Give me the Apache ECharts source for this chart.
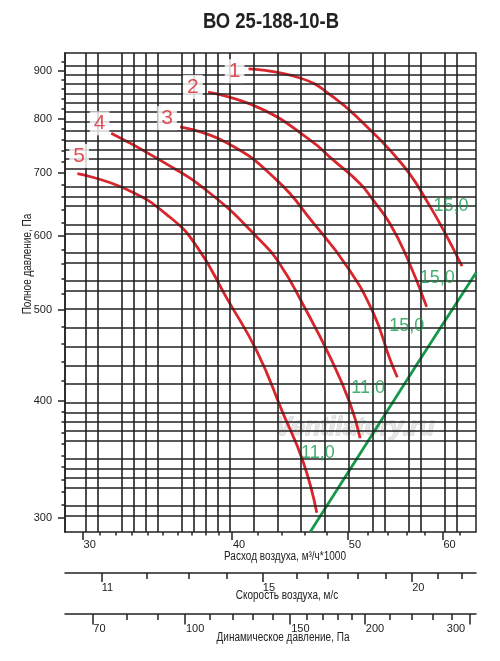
<!DOCTYPE html>
<html>
<head>
<meta charset="utf-8">
<script src="https://cdn.jsdelivr.net/npm/echarts@6/dist/echarts.min.js"></script>
<style>
html,body{margin:0;padding:0;background:#fff;}
#chart{width:500px;height:661px;}
</style>
</head>
<body>
<div id="chart"></div>
<script>
// ---------- data ----------
const flowRange = [29, 64];              // thousand m3/h
const pressureRange = [290, 940];        // Pa
const flowGridTicks = [30,31,32,33,34,35,36,37,38,39,40,42,44,46,48,50,52,54,56,58,60,62];
const flowLabels = [30,40,50,60];
const pressureGridTicks = [300,310,320,330,340,350,360,370,380,390,400,420,440,460,480,500,520,540,560,580,600,620,640,660,680,700,720,740,760,780,800,820,840,860,880,900,920];
const pressureLabels = [300,400,500,600,700,800,900];
const velocityTicks = [11,12,13,14,15,16,17,18,19,20,21,22];
const velocityLabels = [11,15,20];
const dynTicks = [70,80,90,100,110,120,130,140,150,160,170,180,190,200,220,240,260,280,300];
const dynLabels = [70,100,150,200];
const dynLabelsEnd = [300];
const flowPerVelocity = 2.83;   // (thousand m3/h) per (m/s)
const halfDensity = 0.6;        // Pd = 0.6 * v^2

const curve1Q = [41.3,45.6,48.6,51.9,54.2,56.4,58.2,60.1,62.3];
const curve1P = [904,884,844,784,741,697,654,609,557];
const curve2Q = [38.2,42.2,46.5,48.6,51.2,52.5,54.2,56.0,58.2];
const curve2P = [854,821,759,723,682,655,619,570,504];
const curve3Q = [36.2,39.6,43.6,46.8,49.9,52.5,54.2,55.0];
const curve3P = [784,754,688,619,557,497,444,424];
const curve4Q = [31.7,34.8,38.3,42.2,43.9,45.9,48.3,50.2,51.2];
const curve4P = [772,723,667,594,559,506,446,398,365];
const curve5Q = [29.7,32.7,35.5,37.4,39.6,42.0,44.1,45.9,47.1];
const curve5P = [699,672,628,584,515,451,389,344,304];
const systemQ = [46.5,57.6,64];
const systemP = [290,445,548];

const curveNames = ['1','2','3','4','5'];
const curveNameQ = [40.2,37.1,35.3,31.0,29.8];
const curveNameP = [899,865,801,791,730];
const markTexts = ['15,0','15,0','15,0','11,0','11,0'];
const markQ = [61.0,59.4,56.0,52.0,47.2];
const markP = [646,541,481,413,352];

const titleText = 'ВО 25-188-10-В';
const flowName = 'Расход воздуха, м³/ч*1000';
const velocityName = 'Скорость воздуха, м/с';
const dynName = 'Динамическое давление, Па';
const pressureName = 'Полное давление, Па';
const watermark = 'Ventilatory.ru';

// ---------- helpers ----------
const L = Math.log10;
const toV = q => q / flowPerVelocity;
const toPd = q => halfDensity * Math.pow(toV(q), 2);
const pts = (qs, ps) => qs.map((q, i) => [L(q), L(ps[i])]);
const fmt = v => String(Math.round(Math.pow(10, v)));

const FONT = "'Liberation Sans',Arial,sans-serif";
const INK = '#222222';
const RED = '#d9262c';
const GREEN = '#17994c';
const NARROW = 0.8;

const xMinF = L(flowRange[0]), xMaxF = L(flowRange[1]);
const xMinV = L(toV(flowRange[0])), xMaxV = L(toV(flowRange[1]));
const xMinD = L(toPd(flowRange[0])), xMaxD = L(toPd(flowRange[1]));

function baseX(min, max, extra) {
  return Object.assign({
    type: 'value', position: 'bottom', min: min, max: max, scale: true,
    axisLine: {show: false, lineStyle: {color: INK, width: 1.5}},
    axisTick: {show: false},
    axisLabel: {show: false},
    splitLine: {show: false}
  }, extra);
}

const labelStyle = {color: '#222', fontSize: 11, fontFamily: FONT};

const xAxes = [
  baseX(xMinF, xMaxF, {
    axisTick: {show: true, length: 3.5, customValues: flowGridTicks.map(L), lineStyle: {color: INK, width: 1.5}}
  }),
  baseX(xMinF, xMaxF, {
    axisTick: {show: true, length: 8, customValues: flowLabels.map(L), lineStyle: {color: INK, width: 1.5}},
    axisLabel: Object.assign({show: true, customValues: flowLabels.map(L), formatter: fmt, align: 'left', margin: 7, padding: [0,0,0,1]}, labelStyle)
  }),
  baseX(xMinV, xMaxV, {
    offset: 41,
    axisLine: {show: true, lineStyle: {color: INK, width: 1.5}},
    axisTick: {show: true, length: 6, customValues: velocityTicks.map(L), lineStyle: {color: INK, width: 1.5}}
  }),
  baseX(xMinV, xMaxV, {
    offset: 41,
    axisTick: {show: true, length: 9, customValues: velocityLabels.map(L), lineStyle: {color: INK, width: 1.5}},
    axisLabel: Object.assign({show: true, customValues: velocityLabels.map(L), formatter: fmt, align: 'left', margin: 9, padding: [0,0,0,0]}, labelStyle)
  }),
  baseX(xMinD, xMaxD, {
    offset: 82,
    axisLine: {show: true, lineStyle: {color: INK, width: 1.5}},
    axisTick: {show: true, length: 6, customValues: dynTicks.map(L), lineStyle: {color: INK, width: 1.5}}
  }),
  baseX(xMinD, xMaxD, {
    offset: 82,
    axisTick: {show: true, length: 10.5, customValues: dynLabels.concat(dynLabelsEnd).map(L), lineStyle: {color: INK, width: 1.5}},
    axisLabel: Object.assign({show: true, customValues: dynLabels.map(L), formatter: fmt, align: 'left', margin: 9, padding: [0,0,0,1]}, labelStyle)
  }),
  baseX(xMinD, xMaxD, {
    offset: 82,
    axisLabel: Object.assign({show: true, customValues: dynLabelsEnd.map(L), formatter: fmt, align: 'right', margin: 9, padding: [0,5,0,0]}, labelStyle)
  })
];

const yMin = L(pressureRange[0]), yMax = L(pressureRange[1]);
const yAxes = [
  {
    type: 'value', position: 'left', min: yMin, max: yMax, scale: true,
    axisLine: {show: true, lineStyle: {color: INK, width: 1.5}},
    axisTick: {show: true, length: 3.5, customValues: pressureGridTicks.map(L), lineStyle: {color: INK, width: 1.5}},
    axisLabel: {show: false},
    splitLine: {show: false}
  },
  {
    type: 'value', position: 'left', min: yMin, max: yMax, scale: true,
    axisLine: {show: false},
    axisTick: {show: true, length: 7, customValues: pressureLabels.map(L), lineStyle: {color: INK, width: 1.5}},
    axisLabel: Object.assign({show: true, customValues: pressureLabels.map(L), formatter: fmt, margin: 13}, labelStyle),
    splitLine: {show: false}
  }
];

function curve(qs, ps, color) {
  return {
    type: 'line', xAxisIndex: 0, yAxisIndex: 0, data: pts(qs, ps),
    smooth: 0.5, showSymbol: false, symbol: 'none', z: 3,
    lineStyle: {color: color, width: 2.8}
  };
}

const gridLineStyle = {type: 'solid', color: INK, width: 1.6, opacity: 1};
const gridSeries = {
  type: 'line', xAxisIndex: 0, yAxisIndex: 0, z: 1, silent: true, data: [],
  markLine: {
    silent: true, symbol: ['none', 'none'], animation: false,
    label: {show: false}, lineStyle: gridLineStyle,
    emphasis: {disabled: true, lineStyle: gridLineStyle},
    data: flowGridTicks.map(v => ({xAxis: L(v)})).concat(pressureGridTicks.map(v => ({yAxis: L(v)})))
  }
};

const series = [
  gridSeries,
  curve(curve1Q, curve1P, RED),
  curve(curve2Q, curve2P, RED),
  curve(curve3Q, curve3P, RED),
  curve(curve4Q, curve4P, RED),
  curve(curve5Q, curve5P, RED),
  Object.assign(curve(systemQ, systemP, GREEN), {smooth: false}),
  {
    type: 'scatter', xAxisIndex: 0, yAxisIndex: 0, z: 6, symbolSize: 1,
    itemStyle: {color: 'rgba(0,0,0,0)'},
    data: curveNames.map((n, i) => ({name: n, value: [L(curveNameQ[i]), L(curveNameP[i])]})),
    label: {show: true, position: 'inside', formatter: p => p.name, color: RED, fontSize: 21, fontFamily: FONT,
            backgroundColor: '#fff', padding: [2, 4, 1, 4]}
  },
  {
    type: 'scatter', xAxisIndex: 0, yAxisIndex: 0, z: 6, symbolSize: 1,
    itemStyle: {color: 'rgba(0,0,0,0)'},
    data: markTexts.map((t, i) => ({name: t, value: [L(markQ[i]), L(markP[i])]})),
    label: {show: true, position: 'inside', formatter: p => p.name, color: GREEN, fontSize: 18, fontFamily: FONT}
  }
];

function txt(text, x, y, size, extra, styleExtra) {
  return Object.assign({type: 'text', x: x, y: y, z: 10, scaleX: NARROW,
    style: Object.assign({text: text, fontSize: size, fontFamily: FONT, fill: '#222', align: 'center', verticalAlign: 'middle'}, styleExtra || {})
  }, extra || {});
}

const chart = echarts.init(document.getElementById('chart'), null, {renderer: 'canvas'});
chart.setOption({
  animation: false,
  backgroundColor: '#fff',
  grid: {left: 65, top: 53, width: 411, height: 479, show: true, borderColor: INK, borderWidth: 1.5, containLabel: false},
  xAxis: xAxes,
  yAxis: yAxes,
  series: series,
  graphic: [
    txt(titleText, 271, 22, 22, {scaleX: 0.84}, {fontWeight: 'bold'}),
    txt(pressureName, 28, 264, 12.5, {rotation: Math.PI / 2}),
    txt(flowName, 285, 557, 12.5),
    txt(velocityName, 287, 596, 12.5),
    txt(dynName, 283, 638, 12.5),
    {type: 'text', x: 355, y: 428, z: 1,
     style: {text: watermark, fontSize: 25, fontStyle: 'italic', fontWeight: 'bold', fontFamily: FONT,
             fill: 'rgba(228,228,228,0.9)', stroke: 'rgba(165,165,165,0.6)', lineWidth: 0.8, align: 'center', verticalAlign: 'middle'}}
  ]
});
</script>
</body>
</html>
